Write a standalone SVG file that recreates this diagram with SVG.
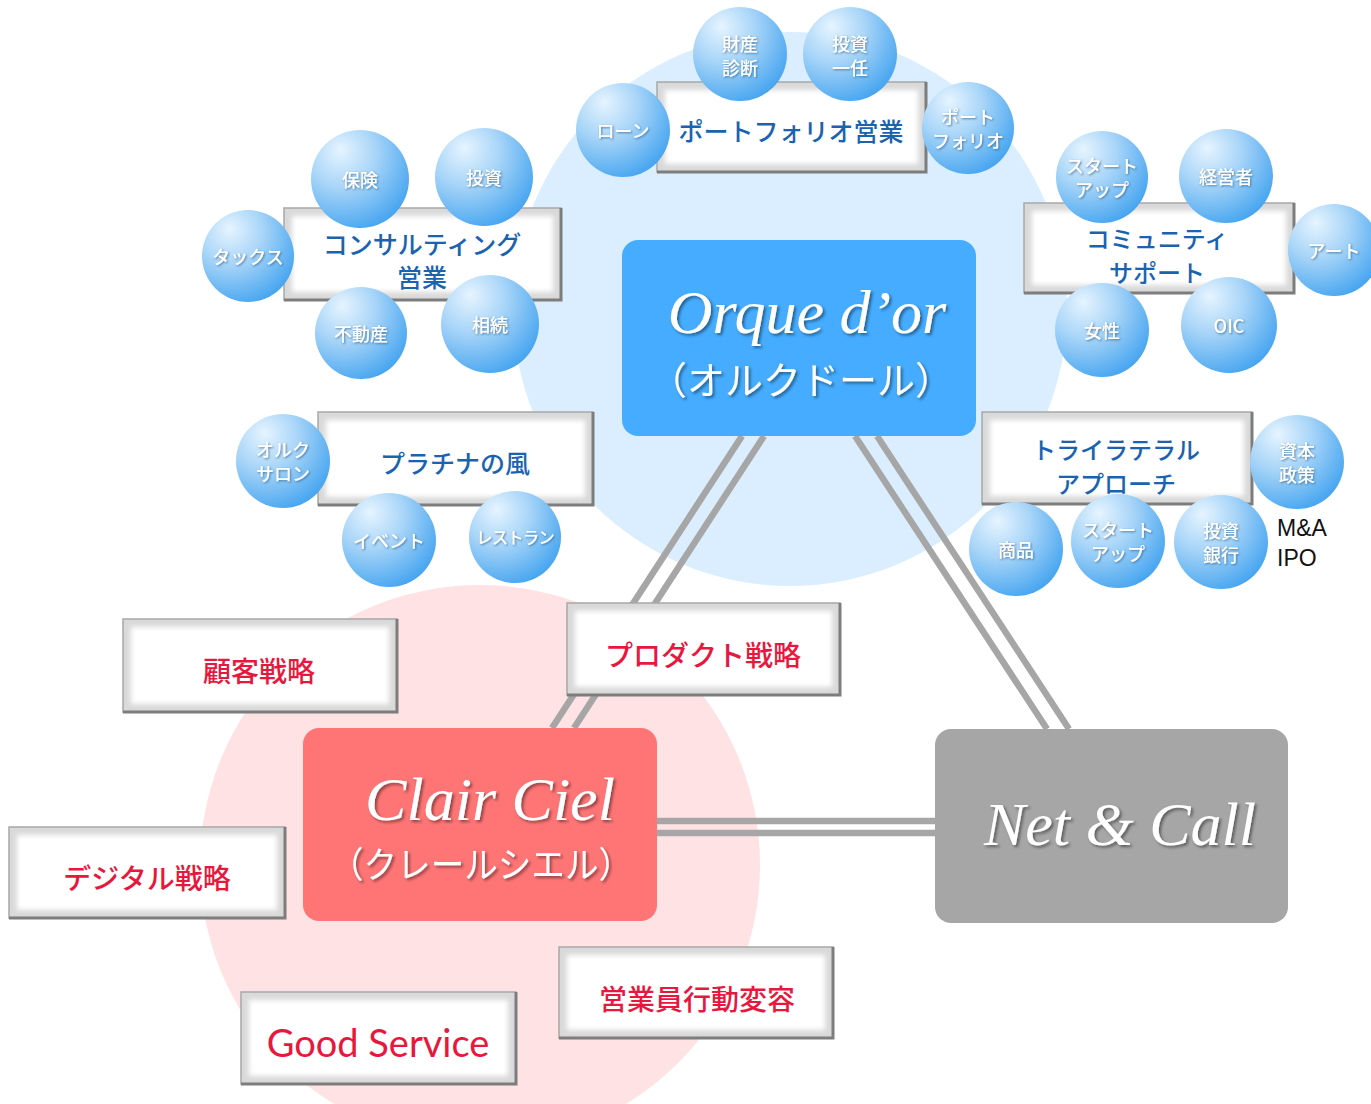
<svg xmlns="http://www.w3.org/2000/svg" width="1371" height="1104" viewBox="0 0 1371 1104">
<defs>
<style>
.bv-o{fill:#d9d9d9;stroke:#a8a8a8;stroke-width:1.5}
.bv-i{fill:#ffffff}
.bv-d{fill:none;stroke:#7d7d7d;stroke-width:3}
.bt{font-family:"Noto Sans CJK JP","Noto Sans",sans-serif;font-weight:500;font-size:25px;fill:#1a63b0;text-anchor:middle;dominant-baseline:central}
.bt2{font-size:24px}
.rt{font-family:"Noto Sans CJK JP","Noto Sans",sans-serif;font-weight:500;font-size:28px;fill:#e8173d;text-anchor:middle;dominant-baseline:central}
.gs{font-family:Lato,"Open Sans",sans-serif;font-weight:400;font-size:38px;fill:#e8173d;text-anchor:middle;dominant-baseline:central}
.bub{fill:url(#bubG)}
.bubt{font-family:"Noto Sans CJK JP","Noto Sans",sans-serif;font-weight:500;font-size:18px;fill:#ffffff;text-anchor:middle;dominant-baseline:central;filter:url(#tsh)}
.bubs{font-size:16.5px;letter-spacing:-1px}
.big{font-family:"Liberation Serif","DejaVu Serif",serif;font-style:italic;font-size:62px;fill:#ffffff;text-anchor:middle;filter:url(#wsh)}
.bigj{font-family:"Noto Sans CJK JP",sans-serif;font-weight:400;fill:#ffffff;text-anchor:middle;dominant-baseline:central;filter:url(#wsh)}
.con{stroke:#a6a6a6;stroke-width:6.5;fill:none}
.plain{font-family:"Liberation Sans","Noto Sans",sans-serif;font-size:23px;fill:#111111}
</style>
<radialGradient id="bubG" cx="0.32" cy="0.28" r="0.78" fx="0.3" fy="0.2">
<stop offset="0" stop-color="#e6f4ff"/>
<stop offset="0.45" stop-color="#a8d5f8"/>
<stop offset="1" stop-color="#46a5f0"/>
</radialGradient>
<filter id="soft" x="-10%" y="-10%" width="120%" height="120%">
<feGaussianBlur stdDeviation="2.5"/>
</filter>
<filter id="tsh" x="-20%" y="-30%" width="140%" height="160%">
<feDropShadow dx="1" dy="1" stdDeviation="0.8" flood-color="#2d5f8a" flood-opacity="0.75"/>
</filter>
<filter id="wsh" x="-10%" y="-20%" width="120%" height="140%">
<feDropShadow dx="2" dy="2" stdDeviation="1.5" flood-color="#000000" flood-opacity="0.45"/>
</filter>
</defs>

<g id="backgrounds">
<circle cx="790" cy="309" r="277" fill="#dbeeff"/>
<circle cx="480" cy="865" r="280" fill="#ffe2e3"/>
</g>

<g id="connectors">
<line class="con" x1="742" y1="436" x2="552" y2="728"/>
<line class="con" x1="764" y1="436" x2="574" y2="728"/>
<line class="con" x1="855" y1="436" x2="1047" y2="729"/>
<line class="con" x1="877" y1="436" x2="1069" y2="729"/>
<line class="con" x1="657" y1="821" x2="935" y2="821"/>
<line class="con" x1="657" y1="833" x2="935" y2="833"/>
</g>

<g id="orque">
<rect x="622" y="240" width="354" height="196" rx="16" fill="#45acff"/>
<text class="big" x="807" y="333">Orque d’or</text>
<text class="bigj" x="801" y="377" font-size="38">（オルクドール）</text>
</g>

<g id="clair">
<rect x="303" y="728" width="354" height="193" rx="16" fill="#ff7576"/>
<text class="big" x="490" y="820">Clair Ciel</text>
<text class="bigj" x="481" y="862" font-size="36" textLength="302" lengthAdjust="spacingAndGlyphs">（クレールシエル）</text>
</g>

<g id="netcall">
<rect x="935" y="729" width="353" height="194" rx="16" fill="#a6a6a6"/>
<text class="big" x="1120" y="845">Net &amp; Call</text>
</g>

<g id="portfolio-sales">
<rect class="bv-o" x="657" y="82" width="269" height="90"/>
<rect class="bv-i" x="665" y="90" width="253" height="74" filter="url(#soft)"/>
<path class="bv-d" d="M926,82 V172 H657"/>
<text class="bt" x="791" y="130">ポートフォリオ営業</text>
</g>

<g id="consulting-sales">
<rect class="bv-o" x="284" y="208" width="277" height="92"/>
<rect class="bv-i" x="292" y="216" width="261" height="76" filter="url(#soft)"/>
<path class="bv-d" d="M561,208 V300 H284"/>
<text class="bt"><tspan x="422" y="243">コンサルティング</tspan><tspan x="422" y="276">営業</tspan></text>
</g>

<g id="community-support">
<rect class="bv-o" x="1024" y="203" width="270" height="90"/>
<rect class="bv-i" x="1032" y="211" width="254" height="74" filter="url(#soft)"/>
<path class="bv-d" d="M1294,203 V293 H1024"/>
<text class="bt bt2"><tspan x="1157" y="237">コミュニティ</tspan><tspan x="1157" y="271">サポート</tspan></text>
</g>

<g id="platinum">
<rect class="bv-o" x="318" y="412" width="275" height="93"/>
<rect class="bv-i" x="326" y="420" width="259" height="77" filter="url(#soft)"/>
<path class="bv-d" d="M593,412 V505 H318"/>
<text class="bt" x="455" y="462">プラチナの風</text>
</g>

<g id="trilateral">
<rect class="bv-o" x="982" y="412" width="270" height="92"/>
<rect class="bv-i" x="990" y="420" width="254" height="76" filter="url(#soft)"/>
<path class="bv-d" d="M1252,412 V504 H982"/>
<text class="bt bt2"><tspan x="1116" y="448">トライラテラル</tspan><tspan x="1116" y="482">アプローチ</tspan></text>
</g>

<g id="customer-strategy">
<rect class="bv-o" x="123" y="619" width="274" height="93"/>
<rect class="bv-i" x="131" y="627" width="258" height="77" filter="url(#soft)"/>
<path class="bv-d" d="M397,619 V712 H123"/>
<text class="rt" x="259" y="670">顧客戦略</text>
</g>

<g id="product-strategy">
<rect class="bv-o" x="567" y="603" width="273" height="92"/>
<rect class="bv-i" x="575" y="611" width="257" height="76" filter="url(#soft)"/>
<path class="bv-d" d="M840,603 V695 H567"/>
<text class="rt" x="703" y="654">プロダクト戦略</text>
</g>

<g id="digital-strategy">
<rect class="bv-o" x="9" y="827" width="276" height="91"/>
<rect class="bv-i" x="17" y="835" width="260" height="75" filter="url(#soft)"/>
<path class="bv-d" d="M285,827 V918 H9"/>
<text class="rt" x="147" y="877">デジタル戦略</text>
</g>

<g id="good-service">
<rect class="bv-o" x="241" y="992" width="275" height="92"/>
<rect class="bv-i" x="249" y="1000" width="259" height="76" filter="url(#soft)"/>
<path class="bv-d" d="M516,992 V1084 H241"/>
<text class="gs" x="378" y="1042">Good Service</text>
</g>

<g id="sales-behavior">
<rect class="bv-o" x="559" y="947" width="274" height="91"/>
<rect class="bv-i" x="567" y="955" width="258" height="75" filter="url(#soft)"/>
<path class="bv-d" d="M833,947 V1038 H559"/>
<text class="rt" x="697" y="998">営業員行動変容</text>
</g>

<g id="b-zaisan"><circle class="bub" cx="740" cy="54" r="47"/><text class="bubt"><tspan x="740" y="43">財産</tspan><tspan x="740" y="67">診断</tspan></text></g>
<g id="b-toushi-ichinin"><circle class="bub" cx="850" cy="54" r="47"/><text class="bubt"><tspan x="850" y="43">投資</tspan><tspan x="850" y="67">一任</tspan></text></g>
<g id="b-loan"><circle class="bub" cx="623" cy="130" r="47"/><text class="bubt" x="623" y="130">ローン</text></g>
<g id="b-portfolio"><circle class="bub" cx="968" cy="128" r="46"/><text class="bubt"><tspan x="968" y="116">ポート</tspan><tspan x="968" y="140">フォリオ</tspan></text></g>

<g id="b-hoken"><circle class="bub" cx="360" cy="179" r="49"/><text class="bubt" x="360" y="179">保険</text></g>
<g id="b-toushi"><circle class="bub" cx="484" cy="177" r="49"/><text class="bubt" x="484" y="177">投資</text></g>
<g id="b-tax"><circle class="bub" cx="248" cy="256" r="46"/><text class="bubt" x="248" y="256">タックス</text></g>
<g id="b-fudousan"><circle class="bub" cx="361" cy="333" r="46"/><text class="bubt" x="361" y="333">不動産</text></g>
<g id="b-souzoku"><circle class="bub" cx="490" cy="324" r="49"/><text class="bubt" x="490" y="324">相続</text></g>

<g id="b-startup1"><circle class="bub" cx="1102" cy="177" r="46"/><text class="bubt"><tspan x="1102" y="165">スタート</tspan><tspan x="1102" y="189">アップ</tspan></text></g>
<g id="b-keieisha"><circle class="bub" cx="1226" cy="176" r="47"/><text class="bubt" x="1226" y="176">経営者</text></g>
<g id="b-art"><circle class="bub" cx="1334" cy="250" r="46"/><text class="bubt" x="1334" y="250">アート</text></g>
<g id="b-josei"><circle class="bub" cx="1102" cy="330" r="47"/><text class="bubt" x="1102" y="330">女性</text></g>
<g id="b-oic"><circle class="bub" cx="1229" cy="325" r="48"/><text class="bubt" x="1229" y="325">OIC</text></g>

<g id="b-salon"><circle class="bub" cx="283" cy="461" r="47"/><text class="bubt"><tspan x="283" y="449">オルク</tspan><tspan x="283" y="473">サロン</tspan></text></g>
<g id="b-event"><circle class="bub" cx="389" cy="540" r="47"/><text class="bubt" x="389" y="540">イベント</text></g>
<g id="b-restaurant"><circle class="bub" cx="515" cy="537" r="46"/><text class="bubt bubs" x="515" y="537">レストラン</text></g>

<g id="b-shihon"><circle class="bub" cx="1297" cy="462" r="47"/><text class="bubt"><tspan x="1297" y="450">資本</tspan><tspan x="1297" y="474">政策</tspan></text></g>
<g id="b-shouhin"><circle class="bub" cx="1016" cy="549" r="47"/><text class="bubt" x="1016" y="549">商品</text></g>
<g id="b-startup2"><circle class="bub" cx="1118" cy="541" r="47"/><text class="bubt"><tspan x="1118" y="529">スタート</tspan><tspan x="1118" y="553">アップ</tspan></text></g>
<g id="b-ib"><circle class="bub" cx="1221" cy="542" r="47"/><text class="bubt"><tspan x="1221" y="530">投資</tspan><tspan x="1221" y="554">銀行</tspan></text></g>

<g id="ma-ipo">
<text class="plain"><tspan x="1277" y="536">M&amp;A</tspan><tspan x="1277" y="566">IPO</tspan></text>
</g>
</svg>
